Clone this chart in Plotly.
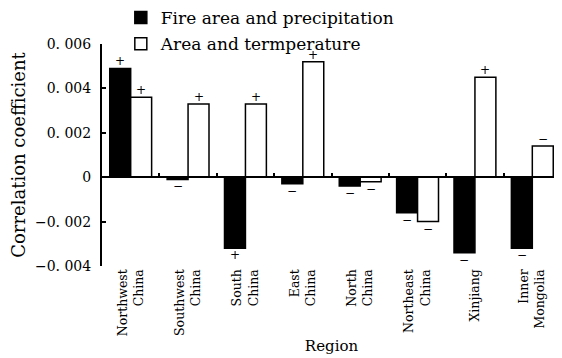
import plotly.graph_objects as go

NB = "\u00a0"
regions = ["Northwest<br>" + NB * 7 + "China", "Southwest<br>" + NB * 7 + "China",
           "South<br>China", NB * 2 + "East<br>China", "North<br>China",
           "Northeast<br>" + NB * 6 + "China", "Xinjiang", NB * 6 + "Inner<br>Mongolia"]
precip = [0.0049, -0.0001, -0.0032, -0.0003, -0.0004, -0.0016, -0.0034, -0.0032]
temper = [0.0036, 0.0033, 0.0033, 0.0052, -0.0002, -0.0020, 0.0045, 0.0014]
precip_sign = ["+", "−", "+", "−", "−", "−", "−", "−"]
temper_sign = ["+", "+", "+", "+", "−", "−", "+", "−"]
y_ticks = [-0.004, -0.002, 0, 0.002, 0.004, 0.006]
y_ticktext = ["−0. 004", "−0. 002", "0", "0. 002", "0. 004", "0. 006"]

FONT = "DejaVu Serif"

fig = go.Figure()
fig.add_trace(go.Bar(
    x=regions, y=precip, name="Fire area and precipitation", legendgroup="a",
    marker=dict(color="black", line=dict(color="black", width=1.5)),
))
fig.add_trace(go.Bar(
    x=regions, y=temper, name="Area and termperature", legendgroup="b",
    marker=dict(color="white", line=dict(color="black", width=1.5)),
))

# sign labels next to the bar ends
for series, signs, dx in ((precip, precip_sign, -10.5), (temper, temper_sign, 10.5)):
    for cat, val, s in zip(regions, series, signs):
        fig.add_annotation(
            x=cat, y=val, text=s, showarrow=False,
            xshift=dx, yshift=7 if val >= 0 else -7,
            xanchor="center", yanchor="middle",
            font=dict(size=12, color="black", family=FONT),
        )

fig.update_layout(
    width=562, height=358,
    margin=dict(l=94, r=9, t=36, b=100, autoexpand=False),
    paper_bgcolor="white", plot_bgcolor="white",
    font=dict(family=FONT, color="black", size=13),
    barmode="group", bargap=0.27, bargroupgap=0,
    showlegend=True,
    legend=dict(
        x=0.041, y=1.198,
        xanchor="left", yanchor="top",
        font=dict(size=17, family=FONT), bgcolor="rgba(0,0,0,0)",
        itemwidth=30, tracegroupgap=1, traceorder="grouped",
    ),
    xaxis=dict(
        anchor="free", position=0.4,
        showline=True, linecolor="black", linewidth=2,
        ticks="inside", tickson="boundaries", ticklen=3, tickwidth=1.5, tickcolor="black",
        tickangle=-90, ticklabelstandoff=86,
        tickfont=dict(size=12.5, family=FONT),
        showgrid=False, zeroline=False,
        title=dict(text="Region", font=dict(size=15, family=FONT), standoff=4),
    ),
    yaxis=dict(
        range=[-0.004, 0.006],
        tickvals=y_ticks, ticktext=y_ticktext,
        showline=True, linecolor="black", linewidth=2,
        ticks="inside", ticklen=4, tickwidth=1.5, tickcolor="black",
        tickfont=dict(size=14, family=FONT), ticklabelstandoff=6,
        showgrid=False, zeroline=False,
        title=dict(text="Correlation coefficient", font=dict(size=18, family=FONT), standoff=8),
    ),
)

fig.write_html("out.html")
